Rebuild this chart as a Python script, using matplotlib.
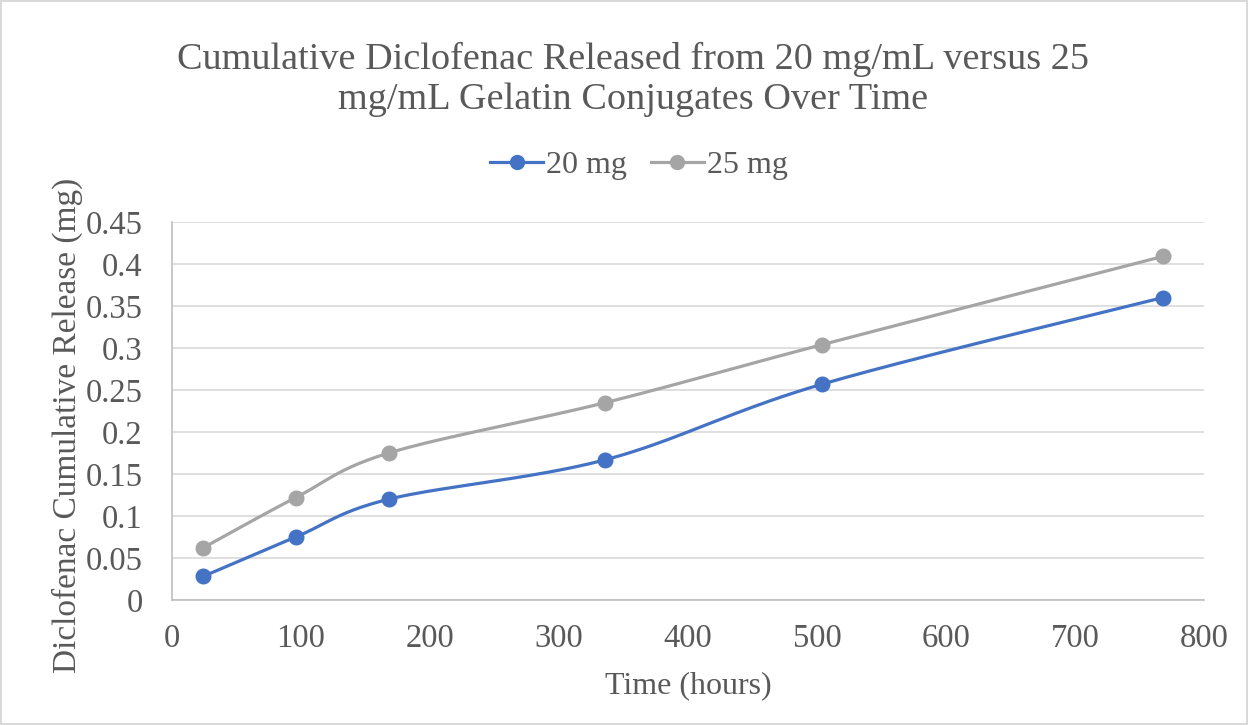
import numpy as np
import matplotlib
matplotlib.use("Agg")
import matplotlib.pyplot as plt
from matplotlib.lines import Line2D

# Data
hours = [24, 96, 168, 336, 504, 768]
release_20mg = [0.028, 0.075, 0.120, 0.167, 0.257, 0.360]
release_25mg = [0.062, 0.122, 0.175, 0.235, 0.304, 0.409]
labels = ["20 mg", "25 mg"]
colors = ["#4472C4", "#A5A5A5"]

plt.rcParams['font.family'] = ['Liberation Serif', 'DejaVu Serif']
text_col = "#595959"


def smooth(x, y, n=40):
    # Excel-style smoothed line: Catmull-Rom style bezier between the points
    x = np.asarray(x, float)
    y = np.asarray(y, float)
    px = np.concatenate([[x[0]], x, [x[-1]]])
    py = np.concatenate([[y[0]], y, [y[-1]]])
    xs, ys = [], []
    t = np.linspace(0, 1, n)
    for i in range(1, len(px) - 2):
        p0 = np.array([px[i], py[i]])
        p3 = np.array([px[i + 1], py[i + 1]])
        c1 = p0 + (np.array([px[i + 1], py[i + 1]]) - np.array([px[i - 1], py[i - 1]])) / 6
        c2 = p3 - (np.array([px[i + 2], py[i + 2]]) - np.array([px[i], py[i]])) / 6
        b = ((1 - t) ** 3)[:, None] * p0 + (3 * (1 - t) ** 2 * t)[:, None] * c1 \
            + (3 * (1 - t) * t ** 2)[:, None] * c2 + (t ** 3)[:, None] * p3
        xs.extend(b[:, 0])
        ys.extend(b[:, 1])
    return xs, ys


fig = plt.figure(figsize=(12.48, 7.25), dpi=100)
fig.patch.set_edgecolor("#d9d9d9")
fig.patch.set_linewidth(1.5)
ax = fig.add_axes([0.1378, 0.1724, 0.827, 0.5214])

for vals, lab, c in zip([release_20mg, release_25mg], labels, colors):
    sx, sy = smooth(hours, vals)
    ax.plot(sx, sy, color=c, lw=2.3, solid_capstyle="round", zorder=3)
    ax.plot(hours, vals, "o", color=c, ms=10.5, zorder=4)

ax.set_xlim(0, 800)
ax.set_ylim(0, 0.45)
ax.set_xticks(np.arange(0, 801, 100))
ax.set_yticks(np.arange(0, 0.451, 0.05))
ax.set_yticklabels(["0", "0.05", "0.1", "0.15", "0.2", "0.25", "0.3", "0.35", "0.4", "0.45"])
ax.grid(axis="y", color="#d9d9d9", lw=1.2)
ax.set_axisbelow(True)
for s in ["top", "right"]:
    ax.spines[s].set_visible(False)
for s in ["left", "bottom"]:
    ax.spines[s].set_color("#bfbfbf")
    ax.spines[s].set_linewidth(1.2)
ax.tick_params(length=0, labelsize=23.5, colors=text_col)
ax.tick_params(axis="x", pad=17)
ax.tick_params(axis="y", pad=21)

ax.set_xlabel("Time (hours)", fontsize=23, color=text_col, labelpad=12)
ax.set_ylabel("Diclofenac Cumulative Release (mg)", fontsize=24, color=text_col)
ax.yaxis.set_label_coords(-0.086, 0.463)

fig.text(0.507, 0.890, "Cumulative Diclofenac Released from 20 mg/mL versus 25\nmg/mL Gelatin Conjugates Over Time",
         ha="center", va="center", fontsize=27.5, color=text_col, linespacing=1.2)

handles = [Line2D([], [], color=c, lw=2.3, marker="o", ms=10) for c in colors]
fig.legend(handles, labels, loc="center", bbox_to_anchor=(0.512, 0.772), ncol=2, frameon=False,
           fontsize=23, labelcolor=text_col, handlelength=1.65, handletextpad=0.1, columnspacing=0.75)

fig.savefig("out.png", dpi=100)
